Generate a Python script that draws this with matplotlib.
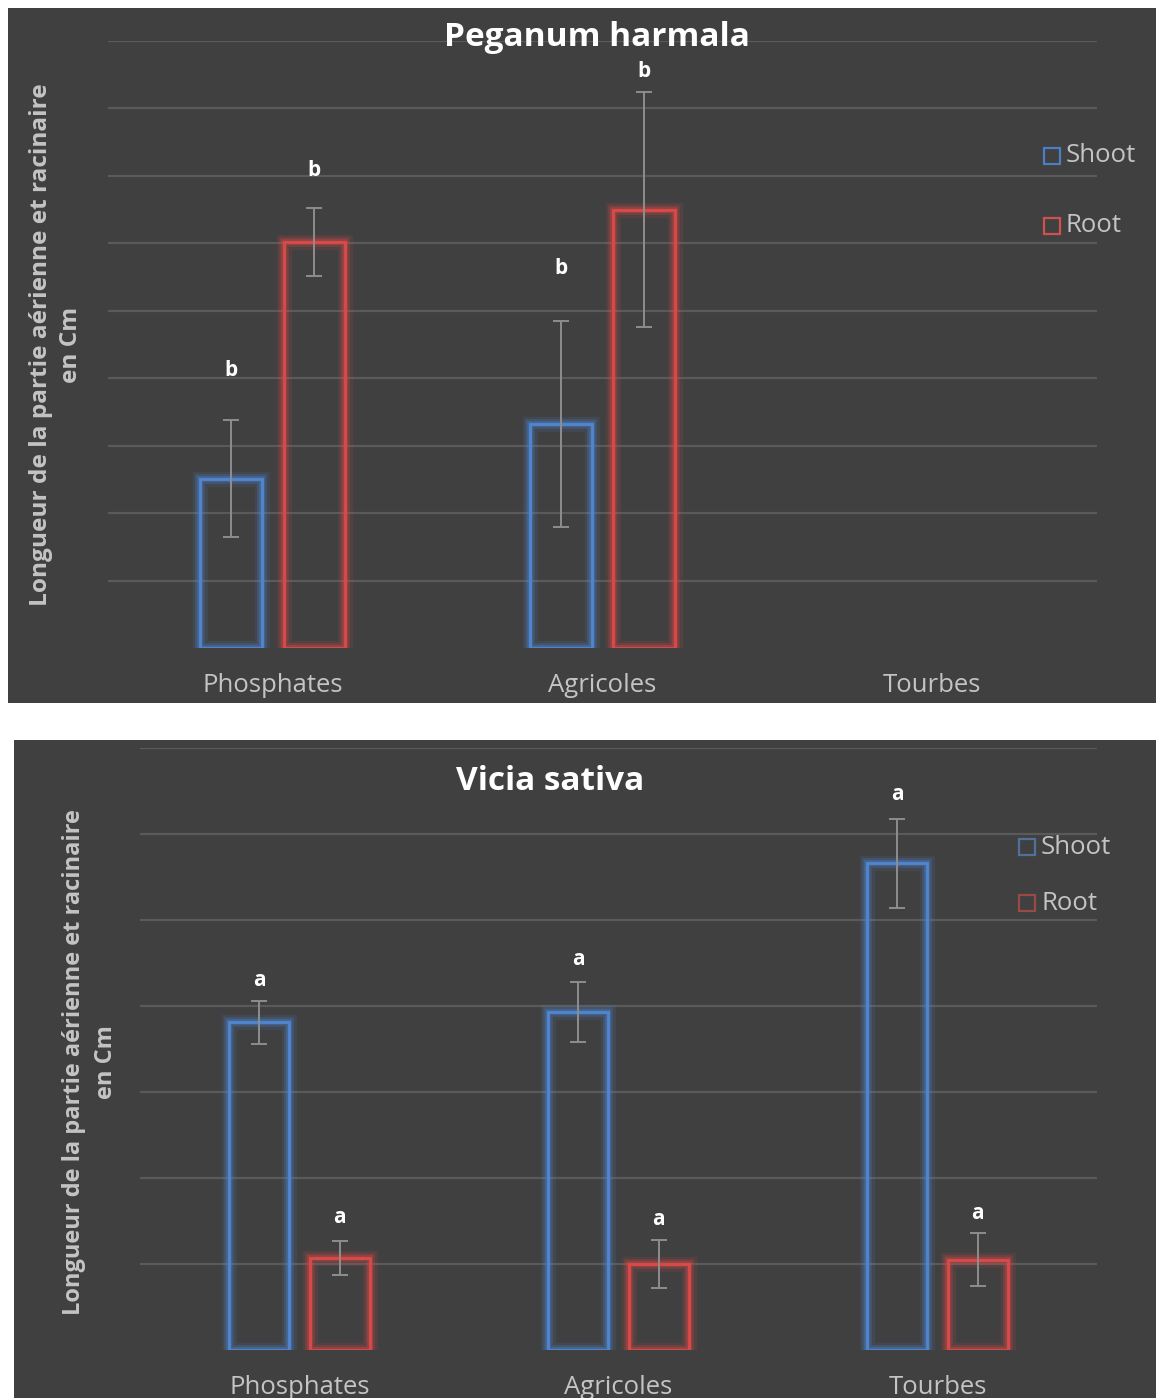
import numpy as np
import matplotlib
matplotlib.use("Agg")
import matplotlib.pyplot as plt
from matplotlib.patches import Rectangle
from matplotlib.lines import Line2D
import matplotlib.patheffects as pe

plt.rcParams['font.family'] = ['Open Sans', 'DejaVu Sans']

# ---- data -------------------------------------------------------------
categories = ["Phosphates", "Agricoles", "Tourbes"]
series_names = ["Shoot", "Root"]

peganum_shoot = [2.51, 3.32, np.nan]
peganum_shoot_err = [0.87, 1.53, np.nan]
peganum_root = [6.02, 6.50, np.nan]
peganum_root_err = [0.50, 1.74, np.nan]
peganum_letters_shoot = ["b", "b", ""]
peganum_letters_root = ["b", "b", ""]

vicia_shoot = [3.81, 3.93, 5.66]
vicia_shoot_err = [0.25, 0.35, 0.52]
vicia_root = [1.07, 1.00, 1.05]
vicia_root_err = [0.20, 0.28, 0.31]
vicia_letters_shoot = ["a", "a", "a"]
vicia_letters_root = ["a", "a", "a"]

ylabel_text = "Longueur de la partie aérienne et racinaire\nen Cm"

# ---- styling ----------------------------------------------------------
W, H = 1156, 1398
BG = "#404040"
GRID = "#5a5a5a"
TXT = "#c4c4c4"
SHOOT_C = "#4f86d2"
ROOT_C = "#dc4a48"
ERR_C = "#8e8e8e"

fig = plt.figure(figsize=(W / 100, H / 100), dpi=100, facecolor="white")


def fx(px):
    return px / W


def fy(py):
    return 1 - py / H


def panel(x0, y0, x1, y1):
    fig.add_artist(Rectangle((fx(x0), fy(y1)), fx(x1) - fx(x0), fy(y0) - fy(y1),
                             transform=fig.transFigure, facecolor=BG,
                             edgecolor="none", zorder=0))


def glow_bar(ax, x, h, w, color):
    rect = Rectangle((x - w / 2, 0), w, h, facecolor="none", edgecolor=color,
                     linewidth=2.0, zorder=3)
    rect.set_path_effects([
        pe.Stroke(linewidth=11, foreground=color, alpha=0.12),
        pe.Stroke(linewidth=7, foreground=color, alpha=0.22),
        pe.Stroke(linewidth=4, foreground=color, alpha=0.35),
        pe.Normal(),
    ])
    ax.add_patch(rect)


def draw_panel(ax, ymax, shoot, shoot_err, root, root_err,
               let_s, let_r, off_s, off_r, title, title_xy):
    ax.set_facecolor(BG)
    ax.patch.set_alpha(0)
    x = np.arange(len(categories))
    w, d = 0.187, 0.126
    for xi, v, e, lt, off in zip(x - d, shoot, shoot_err, let_s, off_s):
        if np.isnan(v):
            continue
        glow_bar(ax, xi, v, w, SHOOT_C)
        ax.errorbar(xi, v, yerr=e, color=ERR_C, lw=1.4, capsize=6,
                    capthick=1.4, zorder=4)
        ax.annotate(lt, (xi, v + e), xytext=(0, off), textcoords="offset points",
                    ha="center", va="center", color="white", fontsize=15,
                    fontweight="bold", zorder=5)
    for xi, v, e, lt, off in zip(x + d, root, root_err, let_r, off_r):
        if np.isnan(v):
            continue
        glow_bar(ax, xi, v, w, ROOT_C)
        ax.errorbar(xi, v, yerr=e, color=ERR_C, lw=1.4, capsize=6,
                    capthick=1.4, zorder=4)
        ax.annotate(lt, (xi, v + e), xytext=(0, off), textcoords="offset points",
                    ha="center", va="center", color="white", fontsize=15,
                    fontweight="bold", zorder=5)
    ax.set_xlim(-0.5, 2.5)
    ax.set_ylim(0, ymax)
    ax.set_yticks(np.arange(1, ymax + 1))
    ax.set_yticklabels([])
    ax.grid(axis="y", color=GRID, lw=1.6, zorder=1)
    ax.set_axisbelow(True)
    ax.tick_params(axis="y", length=0)
    ax.set_xticks(x)
    ax.set_xticklabels(categories, color=TXT, fontsize=18.5)
    ax.tick_params(axis="x", length=0, pad=18)
    for s in ax.spines.values():
        s.set_visible(False)
    fig.text(fx(title_xy[0]), fy(title_xy[1]), title, ha="center",
             va="center", color="white", fontsize=24, fontweight="bold",
             zorder=6)


def legend(x_marker, y_shoot, y_root, c_shoot, c_root):
    for y, c, name in [(y_shoot, c_shoot, series_names[0]),
                       (y_root, c_root, series_names[1])]:
        fig.add_artist(Line2D([fx(x_marker)], [fy(y)], marker="s",
                              markersize=12, markerfacecolor="none",
                              markeredgecolor=c, markeredgewidth=1.6,
                              transform=fig.transFigure, zorder=5))
        fig.text(fx(x_marker + 14), fy(y), name, ha="left", va="center",
                 color=TXT, fontsize=18.5, zorder=5)


# ---- top panel: Peganum harmala --------------------------------------
panel(8, 8, 1156, 703)
ax1 = fig.add_axes([fx(108), fy(648), fx(1097) - fx(108), fy(41) - fy(648)])
draw_panel(ax1, 9, peganum_shoot, peganum_shoot_err, peganum_root,
           peganum_root_err, peganum_letters_shoot, peganum_letters_root,
           [36, 38, 0], [27, 15, 0], "Peganum harmala", (597, 38))
fig.text(fx(56), fy(345), ylabel_text, rotation=90, ha="center", va="center",
         multialignment="center", color=TXT, fontsize=17.6, fontweight="bold",
         linespacing=1.3)
legend(1052, 156, 226, "#4a7fc6", "#d0504d")

# ---- bottom panel: Vicia sativa --------------------------------------
panel(14, 740, 1156, 1398)
ax2 = fig.add_axes([fx(140), fy(1350), fx(1097) - fx(140), fy(748) - fy(1350)])
draw_panel(ax2, 7, vicia_shoot, vicia_shoot_err, vicia_root, vicia_root_err,
           vicia_letters_shoot, vicia_letters_root,
           [15, 16, 17], [17, 15, 14], "Vicia sativa", (550, 782))
fig.text(fx(90), fy(1062), ylabel_text, rotation=90, ha="center", va="center",
         multialignment="center", color=TXT, fontsize=17, fontweight="bold",
         linespacing=1.45)
legend(1027, 847, 903, "#51709a", "#9a4a44")

fig.savefig("out.png", dpi=100, facecolor="white")
